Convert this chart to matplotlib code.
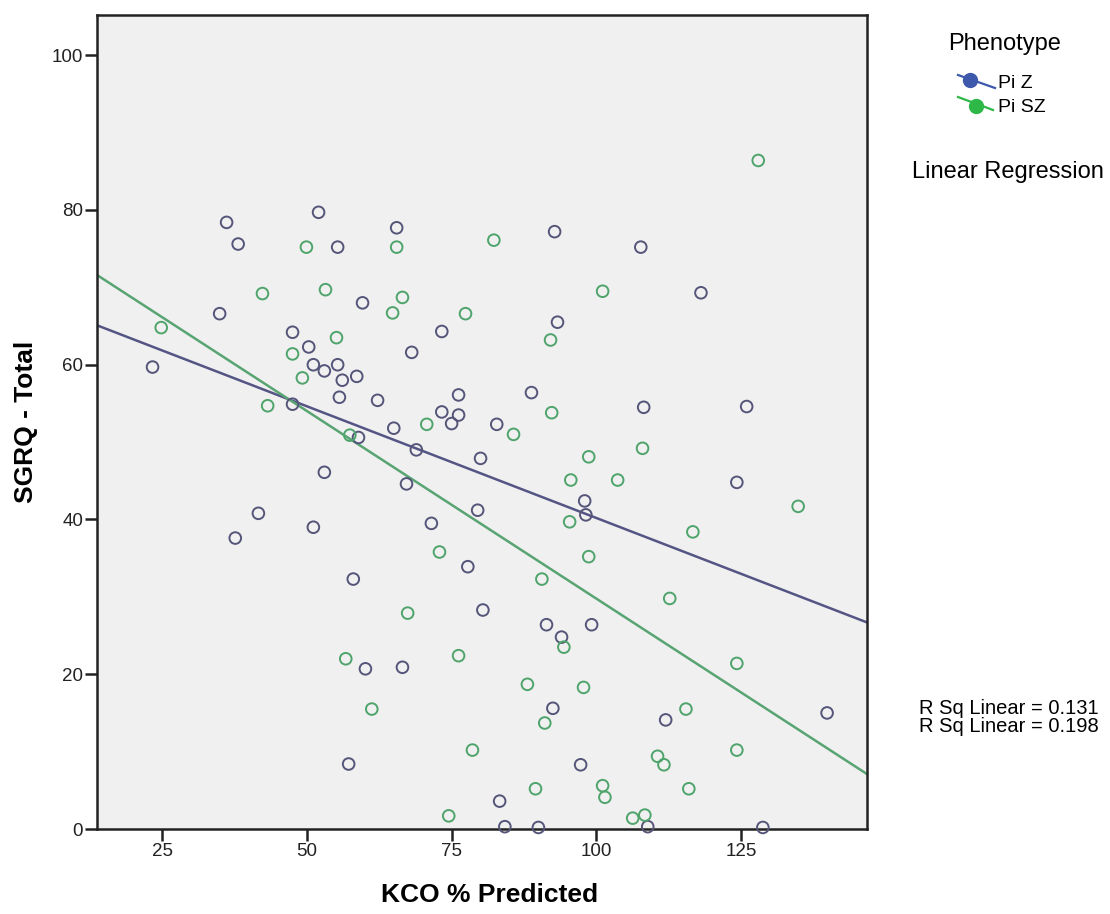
import numpy as np
import matplotlib
matplotlib.use("Agg")
import matplotlib.pyplot as plt
from matplotlib.lines import Line2D

plt.rcParams["font.family"] = ["Liberation Sans", "DejaVu Sans"]

# Pi Z 组 (KCO %, SGRQ)
piz_kco = [36.1, 38.1, 52.0, 55.3, 34.9, 65.5, 47.5, 50.3, 23.3, 51.1, 53.0, 55.3,
           56.1, 58.6, 55.6, 62.2, 47.5, 65.0, 58.9, 59.6, 68.1, 92.8, 107.7, 118.1,
           73.3, 93.3, 88.8, 76.2, 108.2, 126.0, 73.3, 76.2, 75.0, 82.8, 80.0, 68.9,
           67.2, 124.3, 98.0, 98.2, 79.5, 71.5, 77.8, 80.4, 91.4, 99.2, 94.0, 66.5,
           92.5, 112.0, 139.9, 83.3, 84.2, 90.0, 128.8, 53.0, 41.6, 51.1, 37.6, 58.0,
           60.1, 57.2, 97.3, 108.9]
piz_sgrq = [78.4, 75.6, 79.7, 75.2, 66.6, 77.7, 64.2, 62.3, 59.7, 60.0, 59.2, 60.0,
            58.0, 58.5, 55.8, 55.4, 54.9, 51.8, 50.6, 68.0, 61.6, 77.2, 75.2, 69.3,
            64.3, 65.5, 56.4, 56.1, 54.5, 54.6, 53.9, 53.5, 52.4, 52.3, 47.9, 49.0,
            44.6, 44.8, 42.4, 40.6, 41.2, 39.5, 33.9, 28.3, 26.4, 26.4, 24.8, 20.9,
            15.6, 14.1, 15.0, 3.6, 0.3, 0.2, 0.2, 46.1, 40.8, 39.0, 37.6, 32.3,
            20.7, 8.4, 8.3, 0.3]

# Pi SZ 组
pisz_kco = [49.9, 42.3, 53.2, 24.8, 64.8, 65.5, 55.1, 47.5, 49.2, 43.2, 57.4, 128.0,
            82.3, 101.1, 66.5, 77.4, 92.1, 92.3, 70.7, 85.7, 108.0, 98.7, 95.6, 103.7,
            95.4, 134.9, 116.7, 72.9, 98.7, 90.6, 112.7, 67.4, 94.4, 76.2, 124.3, 88.1,
            97.8, 91.1, 115.5, 78.6, 110.6, 111.7, 124.3, 89.5, 101.1, 101.5, 116.0,
            74.5, 106.3, 108.4, 56.7, 61.2]
pisz_sgrq = [75.2, 69.2, 69.7, 64.8, 66.7, 75.2, 63.5, 61.4, 58.3, 54.7, 50.9, 86.4,
             76.1, 69.5, 68.7, 66.6, 63.2, 53.8, 52.3, 51.0, 49.2, 48.1, 45.1, 45.1,
             39.7, 41.7, 38.4, 35.8, 35.2, 32.3, 29.8, 27.9, 23.5, 22.4, 21.4, 18.7,
             18.3, 13.7, 15.5, 10.2, 9.4, 8.3, 10.2, 5.2, 5.6, 4.1, 5.2,
             1.7, 1.4, 1.8, 22.0, 15.5]

groups = ["Pi Z", "Pi SZ"]
# 回归线 (截距, 斜率)
fit_intercept = [69.05, 78.24]
fit_slope = [-0.2885, -0.4846]
r2 = [0.131, 0.198]

pt_col = ["#55557a", "#4fa46c"]
line_col = ["#555585", "#58a472"]
leg_col = ["#3e58ac", "#2eb848"]

W, H = 1110, 914
fig = plt.figure(figsize=(W / 100, H / 100), dpi=100)
ax = fig.add_axes([97 / W, 1 - 829 / H, 770 / W, 814 / H])
ax.set_facecolor("#f0f0f0")

xlim = (13.7, 146.8)
for xs, ys, c in [(piz_kco, piz_sgrq, pt_col[0]), (pisz_kco, pisz_sgrq, pt_col[1])]:
    ax.scatter(xs, ys, s=70, facecolors="none", edgecolors=c, linewidths=1.4,
               zorder=3, clip_on=False)
xx = np.array(xlim)
for b0, b1, c in zip(fit_intercept, fit_slope, line_col):
    ax.plot(xx, b0 + b1 * xx, color=c, lw=1.8, zorder=2)

ax.set_xlim(*xlim)
ax.set_ylim(0, 105.2)
ax.set_xticks([25, 50, 75, 100, 125])
ax.set_yticks([0, 20, 40, 60, 80, 100])
ax.tick_params(direction="out", length=8.5, width=1.8, labelsize=13.5,
               colors="#222222", pad=1.5)
for s in ax.spines.values():
    s.set_linewidth(1.8)
    s.set_color("#222222")
ax.set_xlabel("KCO % Predicted", fontsize=19, fontweight="bold")
ax.xaxis.set_label_coords(0.51, -0.066)
ax.set_ylabel("SGRQ - Total", fontsize=19, fontweight="bold", labelpad=10)

# 图例 (手工画: 斜线 + 实心圆)
def px(x, y):
    return x / W, 1 - y / H

fig.text(*px(1005, 44), "Phenotype", fontsize=17, ha="center", va="center")
leg_lines = [((958, 75), (995, 88), (970, 80), 83), ((958, 97), (993, 110), (976, 106), 107)]
for (p0, p1, pc, ty), c, g in zip(leg_lines, leg_col, groups):
    a, b = px(*p0), px(*p1)
    fig.add_artist(Line2D([a[0], b[0]], [a[1], b[1]], color=c, lw=1.6,
                          transform=fig.transFigure))
    cc = px(*pc)
    fig.add_artist(Line2D([cc[0]], [cc[1]], marker="o", markersize=10, color=c,
                          transform=fig.transFigure))
    fig.text(*px(998, ty), g, fontsize=14, ha="left", va="center")

fig.text(*px(1008, 172), "Linear Regression", fontsize=17, ha="center", va="center")
fig.text(*px(1009, 708), f"R Sq Linear = {r2[0]:.3f}", fontsize=14.5, ha="center", va="center")
fig.text(*px(1009, 727), f"R Sq Linear = {r2[1]:.3f}", fontsize=14.5, ha="center", va="center")

plt.savefig("out.png", dpi=100, facecolor="white")
